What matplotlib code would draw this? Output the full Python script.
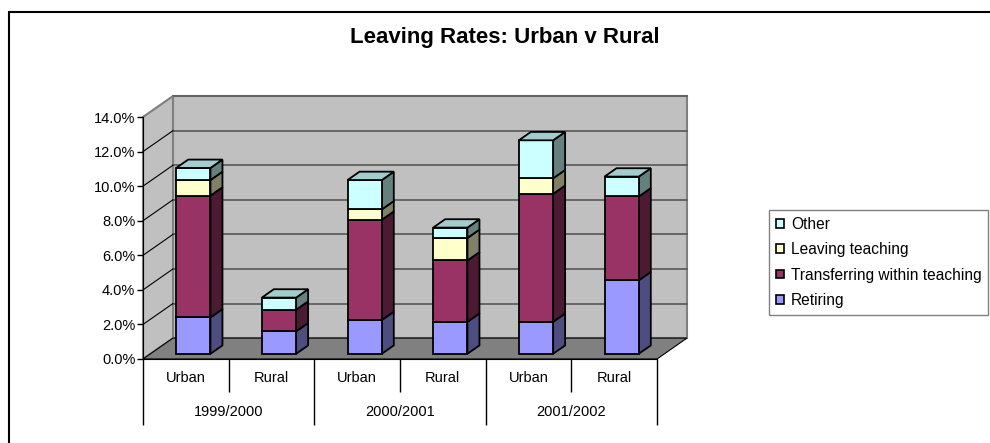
import numpy as np
import matplotlib
matplotlib.use("Agg")
import matplotlib.pyplot as plt
from matplotlib.patches import Polygon, Rectangle
from matplotlib.colors import to_rgb

plt.rcParams['font.family'] = ['Liberation Sans', 'DejaVu Sans']

# data (percent)
years = ['1999/2000', '2000/2001', '2001/2002']
areas = ['Urban', 'Rural', 'Urban', 'Rural', 'Urban', 'Rural']
retiring = [2.1, 1.3, 1.95, 1.85, 1.85, 4.25]
transferring = [7.05, 1.25, 5.8, 3.55, 7.4, 4.85]
leaving = [0.9, 0.0, 0.6, 1.3, 0.9, 0.0]
other = [0.7, 0.7, 1.7, 0.6, 2.2, 1.15]
series_names = ['Retiring', 'Transferring within teaching', 'Leaving teaching', 'Other']
series_colors = ['#9999ff', '#993366', '#ffffcc', '#ccffff']
yticks = [0, 2, 4, 6, 8, 10, 12, 14]

fig = plt.figure(figsize=(9.9, 4.43), dpi=100)
ax = fig.add_axes([143 / 990, 1 - 359 / 443, 514 / 990, 242 / 443])
n = len(areas)
ax.set_xlim(0, n)
ax.set_ylim(0, 14)
ax.patch.set_visible(False)

# fake 3d depth, in data units
DX, DY = 0.35, 1.21
f0, f1 = 0.25, 0.65
bw = 0.4


def shade(c, k):
    return tuple(np.array(to_rgb(c)) * k)


# walls and floor
ax.add_patch(Polygon([(DX, DY), (n + DX, DY), (n + DX, 14 + DY), (DX, 14 + DY)],
                     fc='#c0c0c0', ec='#808080', lw=1.5, clip_on=False, zorder=0))
ax.add_patch(Polygon([(0, 0), (DX, DY), (DX, 14 + DY), (0, 14)],
                     fc='#c0c0c0', ec='#808080', lw=1.5, clip_on=False, zorder=0))
ax.add_patch(Polygon([(0, 0), (n, 0), (n + DX, DY), (DX, DY)],
                     fc='#808080', ec='black', lw=0.8, clip_on=False, zorder=0.5))

for v in yticks[1:]:
    ax.plot([DX, n + DX], [v + DY, v + DY], color='#5f5f5f', lw=1.3,
            clip_on=False, zorder=0.6)
    ax.plot([0, DX], [v, v + DY], color='black' if v < 14 else '#808080',
            lw=0.8, clip_on=False, zorder=0.6)

# stacked 3d bars
stack = [retiring, transferring, leaving, other]
for i in range(n):
    x0 = i + 0.5 - bw / 2 + f0 * DX
    x1 = x0 + bw
    ddx = (f1 - f0) * DX
    ddy = (f1 - f0) * DY
    base = f0 * DY
    segs = [(s[i], c) for s, c in zip(stack, series_colors) if s[i] > 0]
    for k, (h, c) in enumerate(segs):
        y0, y1 = base, base + h
        ax.add_patch(Polygon([(x1, y0), (x1 + ddx, y0 + ddy), (x1 + ddx, y1 + ddy), (x1, y1)],
                             fc=shade(c, 0.5), ec='black', lw=1.3, clip_on=False, zorder=2))
        ax.add_patch(Rectangle((x0, y0), bw, h, fc=c, ec='black', lw=1.3,
                               clip_on=False, zorder=3))
        if k == len(segs) - 1:
            ax.add_patch(Polygon([(x0, y1), (x1, y1), (x1 + ddx, y1 + ddy), (x0 + ddx, y1 + ddy)],
                                 fc=shade(c, 0.8), ec='black', lw=1.3, clip_on=False, zorder=3))
        base = y1

# y axis
ax.set_yticks(yticks)
ax.set_yticklabels(['%.1f%%' % v for v in yticks], fontsize=10.5)
ax.tick_params(axis='y', length=4, width=1, pad=1.5)
for s in ['top', 'right']:
    ax.spines[s].set_visible(False)
ax.spines['left'].set_zorder(1)
ax.spines['bottom'].set_zorder(1)

# category table under the floor
ax.set_xticks(range(0, n + 1, 2))
ax.set_xticks(range(1, n, 2), minor=True)
ax.set_xticklabels([])
ax.tick_params(axis='x', which='major', length=47.5, width=1, color='black')
ax.tick_params(axis='x', which='minor', length=23.8, width=1, color='black')
for i, a in enumerate(areas):
    ax.text(i + 0.5, -1.1, a, ha='center', va='center', fontsize=10.5, clip_on=False)
for j, yr in enumerate(years):
    ax.text(2 * j + 1, -3.07, yr, ha='center', va='center', fontsize=10.5, clip_on=False)

fig.text(0.51, 1 - 37 / 443, 'Leaving Rates: Urban v Rural', ha='center', va='center',
         fontsize=16, fontweight='bold')

handles = [Rectangle((0, 0), 1, 1, fc=c, ec='black', lw=1.2) for c in series_colors]
fig.legend(handles[::-1], series_names[::-1], loc='upper left',
           bbox_to_anchor=(769 / 990, 1 - 210 / 443), borderaxespad=0,
           fancybox=False, edgecolor='#808080', framealpha=1, fontsize=11.2,
           handlelength=0.5, handleheight=0.5, handletextpad=0.45,
           labelspacing=0.66, borderpad=0.45)

fig.add_artist(Rectangle((9 / 990, -0.05), 1.0, 1 - 12 / 443 + 0.05,
                         transform=fig.transFigure, fill=False, ec='black', lw=1.5))

fig.savefig('out.png', dpi=100)
